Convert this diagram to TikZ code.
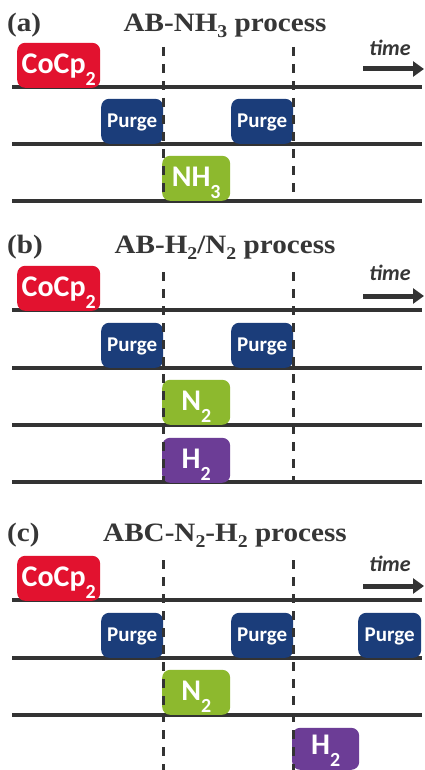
\documentclass[tikz,border=0pt]{standalone}
\usepackage{fontspec}
\setmainfont{Liberation Serif}
\newfontfamily\ttlfont[FakeStretch=1.1]{Liberation Serif}
\newfontfamily\boxfont{Carlito}
\usetikzlibrary{arrows.meta}
\definecolor{cred}{HTML}{E2122F}
\definecolor{cnavy}{HTML}{1B3D7A}
\definecolor{cgreen}{HTML}{8DB92E}
\definecolor{cpurple}{HTML}{6C3D96}
\definecolor{cline}{HTML}{333333}
\definecolor{ctitle}{HTML}{363636}
\newcommand{\gsub}[1]{\raisebox{-12pt}{\fontsize{20}{20}\selectfont #1}}
\newcommand{\tsub}[1]{\raisebox{-6pt}{\fontsize{18}{18}\selectfont #1}}
\tikzset{
  gas/.style={rounded corners=8pt, fill=#1, text=white, inner sep=0pt,
    font=\boxfont\bfseries\fontsize{30}{30}\selectfont, anchor=south west,
    text height=31pt, text depth=14pt, align=center},
  purge/.style={gas=cnavy, font=\boxfont\bfseries\fontsize{21}{21}\selectfont,
    text height=29pt, text depth=16pt, minimum width=62pt},
  tline/.style={draw=cline, line width=3.3pt},
  dline/.style={draw=cline, line width=3pt, dash pattern=on 9pt off 8pt},
  ttl/.style={font=\ttlfont\bfseries\fontsize{26.5}{26.5}\selectfont, text=ctitle, anchor=base, inner sep=0pt},
  tm/.style={font=\boxfont\bfseries\itshape\fontsize{22}{22}\selectfont, text=ctitle, anchor=base, inner sep=0pt},
  tarrow/.style={draw=cline, line width=5pt, -{Triangle[length=11pt,width=15pt]}}
}
\begin{document}
\begin{tikzpicture}[x=1pt,y=-1pt]
\useasboundingbox (0,0) rectangle (425,770);
\clip (0,0) rectangle (425,770);
\fill[white] (0,0) rectangle (425,770);

% ---------------- panel (a)
\node[ttl, anchor=base west] (la) at (7,32) {(a)};
\node[ttl] (ta) at (225,32) {AB-NH\tsub{3} process};
\node[tm] (tima) at (390,56) {time};
\coordinate (aas) at (363,69); \coordinate (aae) at (424,69);
\draw[tarrow] (aas) -- (aae);
\foreach \n/\y in {1/87,2/144,3/201}{
  \coordinate (aL\n) at (12,\y); \coordinate (aR\n) at (422,\y);
  \draw[tline] (aL\n) -- (aR\n);}
\node[gas=cred, minimum width=83pt] (acocp) at (17,88) {CoCp\gsub{2}};
\node[purge] (ap1) at (101,144) {Purge};
\node[purge] (ap2) at (231,144) {Purge};
\node[gas=cgreen, minimum width=68pt] (anh) at (162,201) {NH\gsub{3}};
\coordinate (ad1t) at (163,47); \coordinate (ad1b) at (163,201);
\coordinate (ad2t) at (293,47); \coordinate (ad2b) at (293,201);
\draw[dline] (ad1t) -- (ad1b);
\draw[dline] (ad2t) -- (ad2b);

% ---------------- panel (b)
\node[ttl, anchor=base west] (lb) at (7,253) {(b)};
\node[ttl] (tb) at (225,253) {AB-H\tsub{2}/N\tsub{2} process};
\node[tm] (timb) at (390,280) {time};
\coordinate (bas) at (363,296); \coordinate (bae) at (424,296);
\draw[tarrow] (bas) -- (bae);
\foreach \n/\y in {1/310,2/368,3/425,4/482}{
  \coordinate (bL\n) at (12,\y); \coordinate (bR\n) at (422,\y);
  \draw[tline] (bL\n) -- (bR\n);}
\node[gas=cred, minimum width=83pt] (bcocp) at (17,311) {CoCp\gsub{2}};
\node[purge] (bp1) at (101,368) {Purge};
\node[purge] (bp2) at (231,368) {Purge};
\node[gas=cgreen, minimum width=68pt] (bn) at (162,425) {N\gsub{2}};
\node[gas=cpurple, minimum width=68pt] (bh) at (162,483) {H\gsub{2}};
\coordinate (bd1t) at (163,272); \coordinate (bd1b) at (163,482);
\coordinate (bd2t) at (293,272); \coordinate (bd2b) at (293,482);
\draw[dline] (bd1t) -- (bd1b);
\draw[dline] (bd2t) -- (bd2b);

% ---------------- panel (c)
\node[ttl, anchor=base west] (lc) at (7,541) {(c)};
\node[ttl] (tc) at (225,541) {ABC-N\tsub{2}-H\tsub{2} process};
\node[tm] (timc) at (390,571) {time};
\coordinate (cas) at (363,586); \coordinate (cae) at (424,586);
\draw[tarrow] (cas) -- (cae);
\foreach \n/\y in {1/600,2/658,3/715}{
  \coordinate (cL\n) at (12,\y); \coordinate (cR\n) at (422,\y);
  \draw[tline] (cL\n) -- (cR\n);}
\node[gas=cred, minimum width=83pt] (ccocp) at (17,601) {CoCp\gsub{2}};
\node[purge] (cp1) at (101,658) {Purge};
\node[purge] (cp2) at (231,658) {Purge};
\node[purge, minimum width=63pt] (cp3) at (358,658) {Purge};
\node[gas=cgreen, minimum width=68pt] (cn) at (162,715) {N\gsub{2}};
\node[gas=cpurple, minimum width=67pt, text height=27pt, text depth=15pt] (ch) at (292,770) {H\gsub{2}};
\coordinate (cd1t) at (163,560); \coordinate (cd1b) at (163,770);
\coordinate (cd2t) at (293,560); \coordinate (cd2b) at (293,770);
\draw[dline] (cd1t) -- (cd1b);
\draw[dline] (cd2t) -- (cd2b);
\end{tikzpicture}
\end{document}
